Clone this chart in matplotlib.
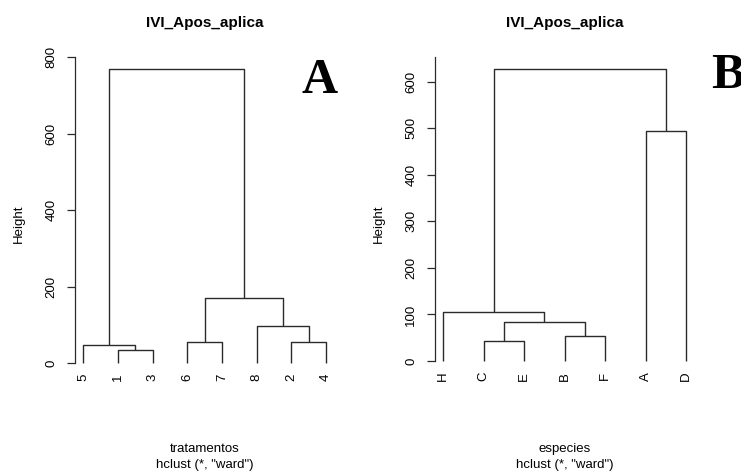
import matplotlib
matplotlib.use("Agg")
import matplotlib.pyplot as plt

plt.rcParams['font.family'] = ['Liberation Sans', 'DejaVu Sans']

W, H = 741, 472

# panel A: tratamentos
labels_a = ['5', '1', '3', '6', '7', '8', '2', '4']
# R-style merge matrix: negative = leaf label, positive = earlier merge step
merge_a = [('-1', '-3'), ('-5', '1'), ('-6', '-7'), ('-2', '-4'),
           ('-8', '4'), ('3', '5'), ('2', '6')]
height_a = [36, 47, 56, 56, 97, 171, 769]
yticks_a = [0, 200, 400, 600, 800]

# panel B: especies
labels_b = ['H', 'C', 'E', 'B', 'F', 'A', 'D']
merge_b = [('-C', '-E'), ('-B', '-F'), ('1', '2'), ('-H', '3'),
           ('-A', '-D'), ('4', '5')]
height_b = [44, 53, 84, 106, 495, 628]
yticks_b = [0, 100, 200, 300, 400, 500, 600]

LC = '#2b2b2b'


def px(x, y):
    return x / W, 1 - y / H


def draw_dendro(ax, labels, merges, heights):
    pos = {}
    for i, lab in enumerate(labels):
        pos['-' + lab] = (i + 1, 0.0)
    for k, (l, r) in enumerate(merges):
        xl, hl = pos[l]
        xr, hr = pos[r]
        h = heights[k]
        ax.plot([xl, xl, xr, xr], [hl, h, h, hr], color=LC, lw=1.0,
                clip_on=False, solid_capstyle='butt')
        pos[str(k + 1)] = ((xl + xr) / 2, h)


def style_axes(ax, labels, yticks, ytop):
    for s in ['top', 'right', 'bottom']:
        ax.spines[s].set_visible(False)
    ax.spines['left'].set_bounds(0, ytop)
    ax.spines['left'].set_color(LC)
    ax.spines['left'].set_linewidth(0.9)
    ax.set_ylim(0, ytop)
    ax.set_yticks(yticks)
    ax.set_yticklabels([str(t) for t in yticks])
    ax.tick_params(axis='y', direction='out', length=5.8, width=0.9,
                   color=LC, pad=7, labelsize=9.5, labelrotation=90)
    for t in ax.get_yticklabels():
        t.set_va('center')
    ax.set_xticks(range(1, len(labels) + 1))
    ax.set_xticklabels(labels, rotation=90)
    ax.tick_params(axis='x', length=0, pad=7.7, labelsize=9.5)


fig = plt.figure(figsize=(W / 100, H / 100), dpi=100)

# axes placed so that the plotted leaves sit where the reference has them
axA = fig.add_axes([75 / W, 1 - 363.3 / H, 259.3 / W, 306 / H])
draw_dendro(axA, labels_a, merge_a, height_a)
axA.set_xlim(0.76, len(labels_a) + 0.24)
style_axes(axA, labels_a, yticks_a, 800)

axB = fig.add_axes([435 / W, 1 - 361 / H, 259.3 / W, 304 / H])
draw_dendro(axB, labels_b, merge_b, height_b)
axB.set_xlim(0.795, len(labels_b) + 0.205)
style_axes(axB, labels_b, yticks_b, 653)

for cx, ylx, sub in [(205, 19, 'tratamentos'), (565, 379.3, 'especies')]:
    fig.text(*px(cx, 23), 'IVI_Apos_aplica', ha='center', va='center',
             fontsize=11, fontweight='bold')
    fig.text(*px(cx, 449), sub, ha='center', va='center', fontsize=9.5)
    fig.text(*px(cx, 465), 'hclust (*, "ward")', ha='center', va='center',
             fontsize=9.5)
    fig.text(*px(ylx, 223.5), 'Height', ha='center', va='center',
             rotation=90, fontsize=9.5)

fig.text(*px(320, 93.3), 'A', ha='center', va='baseline', fontsize=36,
         fontweight='bold', family='Liberation Serif')
fig.text(*px(711, 88.3), 'B', ha='left', va='baseline', fontsize=36,
         fontweight='bold', family='Liberation Serif')

fig.savefig('out.png', dpi=100)
